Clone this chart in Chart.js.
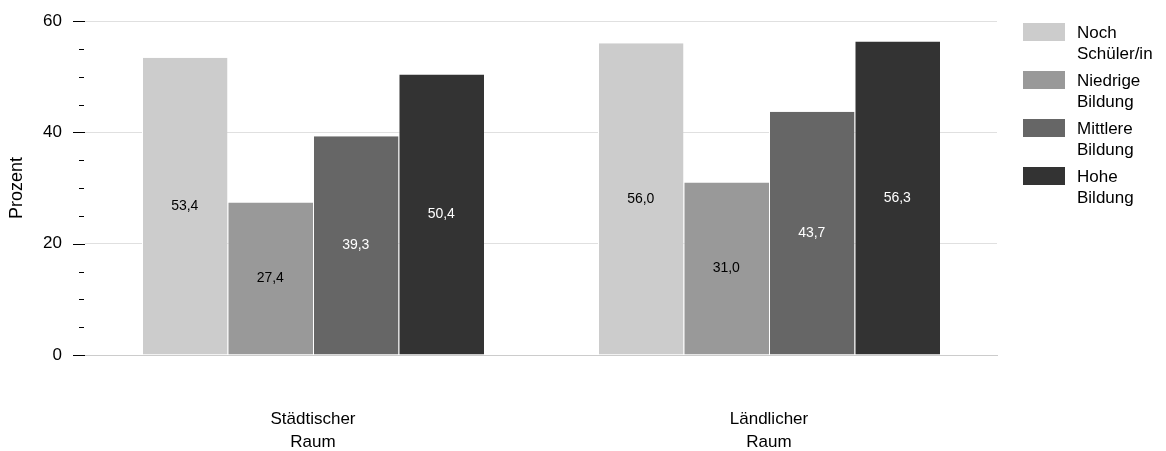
<!DOCTYPE html>
<html>
<head>
<meta charset="utf-8">
<script src="https://cdn.jsdelivr.net/npm/chart.js@4"></script>
<style>
  html, body { margin: 0; padding: 0; background: #fff; }
  #wrap { width: 1166px; height: 451px; }
</style>
</head>
<body>
<div id="wrap"><canvas id="canvas"></canvas></div>
<script>
var categories = [['Städtischer', 'Raum'], ['Ländlicher', 'Raum']];
var seriesNames = [['Noch', 'Schüler/in'], ['Niedrige', 'Bildung'], ['Mittlere', 'Bildung'], ['Hohe', 'Bildung']];
var noch = [53.4, 56.0];
var niedrig = [27.4, 31.0];
var mittel = [39.3, 43.7];
var hoch = [50.4, 56.3];
var yTicks = [0, 20, 40, 60];

var colors = ['#cccccc', '#999999', '#666666', '#333333'];
var labelColors = ['#000000', '#000000', '#ffffff', '#ffffff'];
var FONT = '"Liberation Sans", Arial, sans-serif';

document.addEventListener('DOMContentLoaded', function () {
    var canvas = document.getElementById('canvas');

    // value labels in the middle of each bar
    var barLabels = {
        id: 'barLabels',
        afterDatasetsDraw: function (chart) {
            var ctx = chart.ctx;
            ctx.save();
            ctx.font = '14px ' + FONT;
            ctx.textAlign = 'center';
            ctx.textBaseline = 'middle';
            chart.data.datasets.forEach(function (ds, i) {
                chart.getDatasetMeta(i).data.forEach(function (bar, j) {
                    var p = bar.getProps(['x', 'y', 'base'], true);
                    ctx.fillStyle = labelColors[i];
                    ctx.fillText(ds.data[j].toFixed(1).replace('.', ','), p.x, (p.y + p.base) / 2);
                });
            });
            ctx.restore();
        }
    };

    // y tick marks: long at labelled values, short in between
    var tickMarks = {
        id: 'tickMarks',
        afterDraw: function (chart) {
            var ctx = chart.ctx;
            var y = chart.scales.y;
            var right = chart.chartArea.left;
            ctx.save();
            ctx.strokeStyle = '#000';
            ctx.lineWidth = 1;
            for (var v = 0; v <= 60; v += 5) {
                var py = Math.round(y.getPixelForValue(v)) + 0.5;
                var major = yTicks.indexOf(v) >= 0;
                var end = major ? right : right - 1;
                var len = major ? 12 : 5;
                ctx.beginPath();
                ctx.moveTo(end - len, py);
                ctx.lineTo(end, py);
                ctx.stroke();
            }
            ctx.restore();
        }
    };

    // legend on the right with two-line labels
    var sideLegend = {
        id: 'sideLegend',
        afterDraw: function (chart) {
            var ctx = chart.ctx;
            ctx.save();
            ctx.font = '17px ' + FONT;
            ctx.textBaseline = 'middle';
            ctx.textAlign = 'left';
            seriesNames.forEach(function (lines, i) {
                var top = 23 + i * 48;
                ctx.fillStyle = colors[i];
                ctx.fillRect(1023, top, 42, 18);
                ctx.fillStyle = '#000';
                lines.forEach(function (t, k) {
                    ctx.fillText(t, 1077, top + 10 + k * 21);
                });
            });
            ctx.restore();
        }
    };

    var datasets = [noch, niedrig, mittel, hoch].map(function (d, i) {
        return {
            label: seriesNames[i].join(' '),
            data: d,
            backgroundColor: colors[i],
            borderColor: '#ffffff',
            borderWidth: { left: 1, right: 0, top: 0, bottom: 0 },
            barPercentage: 1,
            categoryPercentage: 0.75
        };
    });

    var config = {
        type: 'bar',
        data: { labels: categories, datasets: datasets },
        options: {
            responsive: true,
            maintainAspectRatio: false,
            animation: false,
            layout: { padding: { top: 21, right: 169, left: 0, bottom: 0 } },
            plugins: {
                legend: { display: false },
                tooltip: { enabled: false }
            },
            scales: {
                x: {
                    grid: { display: false },
                    border: { display: true, color: '#cccccc' },
                    ticks: {
                        color: '#000',
                        font: { family: FONT, size: 17, lineHeight: 1.35 },
                        padding: 45,
                        maxRotation: 0
                    },
                    afterFit: function (s) {
                        s.height = 96;
                        s.paddingLeft = 0;
                        s.paddingRight = 0;
                    }
                },
                y: {
                    min: 0,
                    max: 60,
                    border: { display: false },
                    grid: {
                        drawTicks: false,
                        color: function (c) {
                            if (c.tick.value === 0) return '#cccccc';
                            return c.tick.value % 20 === 0 ? '#e0e0e0' : 'rgba(0,0,0,0)';
                        }
                    },
                    ticks: {
                        stepSize: 5,
                        color: '#000',
                        padding: 23,
                        font: { family: FONT, size: 17 },
                        callback: function (v) { return yTicks.indexOf(v) >= 0 ? String(v) : ''; }
                    },
                    title: {
                        display: true,
                        text: 'Prozent',
                        color: '#000',
                        font: { family: FONT, size: 18 },
                        padding: { top: 6, bottom: 0 }
                    },
                    afterFit: function (s) {
                        s.width = 85;
                        s.paddingTop = 0;
                        s.paddingBottom = 0;
                    }
                }
            }
        },
        plugins: [barLabels, tickMarks, sideLegend]
    };

    window.chart = new Chart(canvas, config);
});
</script>
</body>
</html>
